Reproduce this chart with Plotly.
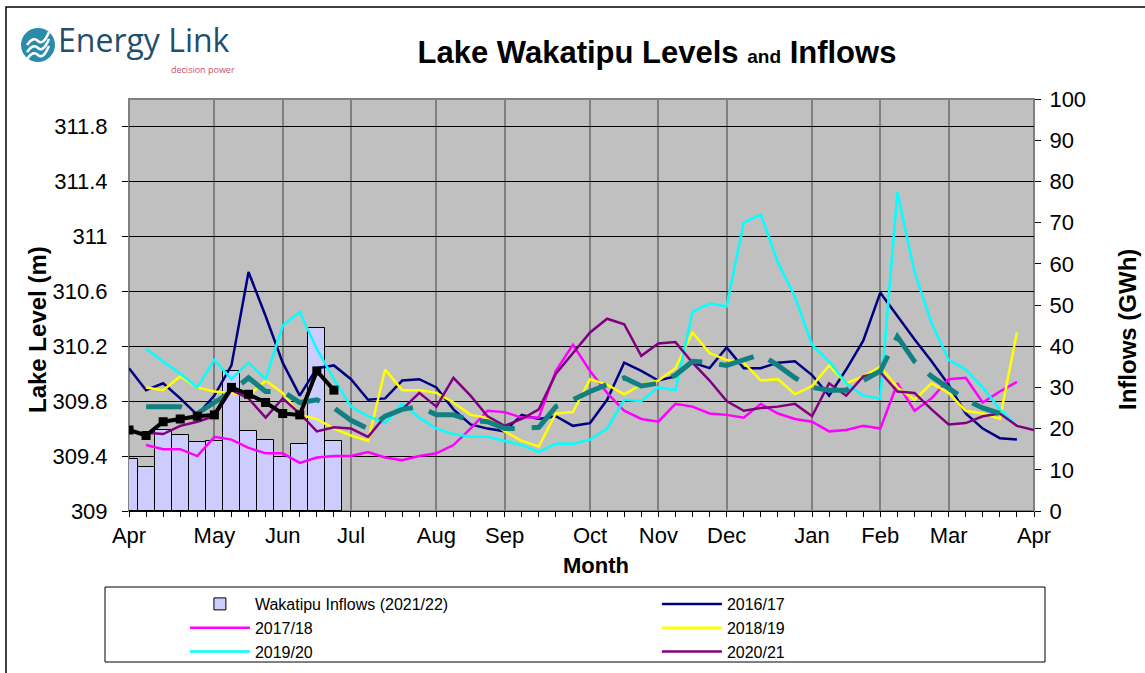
import plotly.graph_objects as go

# ---------------- data ----------------
month_ticks = [0, 5, 9, 13, 18, 22, 27, 31, 35, 40, 44, 48, 53]
month_labels = ['Apr', 'May', 'Jun', 'Jul', 'Aug', 'Sep', 'Oct', 'Nov', 'Dec', 'Jan', 'Feb', 'Mar', 'Apr']

level_ticks = [309, 309.4, 309.8, 310.2, 310.6, 311, 311.4, 311.8]
level_tick_labels = ['309', '309.4', '309.8', '310.2', '310.6', '311', '311.4', '311.8']

weeks_2122 = list(range(0, 13))
inflows_2122 = [12.6, 10.7, 19.7, 18.4, 16.7, 17.0, 34.1, 19.5, 17.3, 13.0, 16.2, 44.5, 16.9]
level_2122 = [309.59, 309.55, 309.65, 309.67, 309.69, 309.70, 309.90, 309.85, 309.79, 309.71,
              309.70, 310.02, 309.88]

weeks_1617 = list(range(0, 53))
level_1617 = [310.04, 309.88, 309.93, 309.82, 309.70, 309.84, 310.06, 310.74, 310.42, 310.08,
              309.84, 310.04, 310.06, 309.96, 309.81, 309.82, 309.95, 309.96, 309.90, 309.74,
              309.63, 309.60, 309.58, 309.70, 309.67, 309.69, 309.62, 309.64, 309.81, 310.08,
              310.02, 309.95, 309.98, 310.08, 310.04, 310.19, 310.04, 310.04, 310.08, 310.09,
              309.99, 309.84, 310.03, 310.24, 310.59, 310.42, 310.25, 310.09, 309.92, 309.71,
              309.60, 309.53, 309.52]

weeks_1718 = list(range(1, 53))
level_1718 = [309.48, 309.45, 309.45, 309.40, 309.54, 309.52, 309.46, 309.42, 309.42, 309.35,
              309.39, 309.40, 309.40, 309.43, 309.39, 309.37, 309.40, 309.42, 309.48, 309.60,
              309.73, 309.72, 309.68, 309.68, 310.02, 310.21, 310.02, 309.86, 309.73, 309.67,
              309.65, 309.78, 309.76, 309.71, 309.70, 309.68, 309.78, 309.71, 309.67, 309.65,
              309.58, 309.59, 309.62, 309.60, 309.93, 309.73, 309.82, 309.96, 309.97, 309.79,
              309.87, 309.94]

weeks_1819 = list(range(1, 53))
level_1819 = [309.90, 309.88, 309.98, 309.90, 309.87, 309.86, 309.84, 309.95, 309.86, 309.70,
              309.67, 309.60, 309.55, 309.51, 310.03, 309.88, 309.88, 309.86, 309.79, 309.70,
              309.68, 309.58, 309.51, 309.47, 309.71, 309.72, 309.96, 309.92, 309.85, 309.92,
              309.95, 310.04, 310.30, 310.15, 310.10, 310.08, 309.95, 309.96, 309.85, 309.91,
              310.06, 309.93, 309.98, 310.05, 309.90, 309.81, 309.93, 309.86, 309.73, 309.71,
              309.67, 310.30]

weeks_1920 = list(range(1, 53))
level_1920 = [310.18, 310.09, 310.00, 309.90, 310.10, 309.96, 310.08, 309.96, 310.35, 310.45,
              310.18, 309.96, 309.76, 309.69, 309.64, 309.78, 309.68, 309.60, 309.56, 309.54,
              309.54, 309.51, 309.48, 309.43, 309.49, 309.49, 309.52, 309.60, 309.81, 309.80,
              309.90, 309.88, 310.45, 310.51, 310.49, 311.10, 311.16, 310.81, 310.56, 310.21,
              310.09, 309.93, 309.84, 309.82, 311.32, 310.74, 310.37, 310.10, 310.03, 309.90,
              309.74, 309.62]

weeks_2021 = list(range(1, 54))
level_2021 = [309.57, 309.56, 309.62, 309.65, 309.69, 309.88, 309.82, 309.68, 309.82, 309.71,
              309.58, 309.61, 309.60, 309.54, 309.69, 309.74, 309.86, 309.76, 309.97, 309.84,
              309.69, 309.62, 309.67, 309.74, 310.00, 310.15, 310.30, 310.40, 310.36, 310.13,
              310.22, 310.23, 310.08, 309.95, 309.80, 309.73, 309.75, 309.76, 309.78, 309.69,
              309.93, 309.84, 309.98, 310.01, 309.87, 309.86, 309.74, 309.63, 309.64, 309.69,
              309.71, 309.62, 309.59]

weeks_avg = list(range(1, 52))
level_avg = [309.76, 309.76, 309.76, 309.71, 309.79, 309.87, 309.97, 309.87, 309.87, 309.79,
             309.81, 309.75, 309.66, 309.60, 309.69, 309.74, 309.76, 309.70, 309.70, 309.66,
             309.65, 309.60, 309.60, 309.61, 309.76, 309.81, 309.87, 309.92, 309.97, 309.91,
             309.93, 309.99, 310.09, 310.08, 310.06, 310.10, 310.14, 310.06, 309.97, 309.90,
             309.88, 309.88, 309.95, 310.02, 310.27, 310.09, 309.98, 309.90, 309.81, 309.75,
             309.71]

# ---------------- layout geometry ----------------
FW, FH = 1145, 673
ML, MR, MT, MB = 129, 111, 99, 162
PW, PH = FW - ML - MR, FH - MT - MB


def px(x):
    return (x - ML) / PW


def py(y):
    return (FH - MB - y) / PH


BASE = 'Liberation Sans, Arial, sans-serif'
LOGO = 'Open Sans, Noto Sans, sans-serif'

fig = go.Figure()

fig.add_trace(go.Bar(
    x=weeks_2122, y=inflows_2122, width=1, name='Wakatipu Inflows (2021/22)',
    marker=dict(color='#CCCCFF', line=dict(color='black', width=1)),
    xaxis='x', yaxis='y'))

series = [
    ('2016/17', weeks_1617, level_1617, '#000080'),
    ('2017/18', weeks_1718, level_1718, '#FF00FF'),
    ('2018/19', weeks_1819, level_1819, '#FFFF00'),
    ('2019/20', weeks_1920, level_1920, '#00FFFF'),
    ('2020/21', weeks_2021, level_2021, '#800080'),
]
for name, xs, ys, col in series:
    fig.add_trace(go.Scatter(x=xs, y=ys, name=name, mode='lines',
                             line=dict(color=col, width=2.5), yaxis='y2'))

fig.add_trace(go.Scatter(x=weeks_avg, y=level_avg, mode='lines', showlegend=False,
                         line=dict(color='#118080', width=5, dash='36px,17px'), yaxis='y2'))
fig.add_trace(go.Scatter(x=weeks_2122, y=level_2122, mode='lines+markers', showlegend=False,
                         line=dict(color='black', width=4),
                         marker=dict(symbol='square', size=9, color='black'), yaxis='y2'))

shapes = [
    # outer chart border
    dict(type='rect', xref='paper', yref='paper', x0=px(6), x1=px(1170), y0=py(700), y1=py(7),
         line=dict(color='black', width=1.5), fillcolor='rgba(0,0,0,0)', layer='above'),
    # legend box
    dict(type='rect', xref='paper', yref='paper', x0=px(105), x1=px(1045), y0=py(662), y1=py(587),
         line=dict(color='black', width=1), fillcolor='white', layer='below'),
    # plot frame
    dict(type='rect', xref='paper', yref='paper', x0=0, x1=1, y0=0, y1=1,
         line=dict(color='#808080', width=2), fillcolor='rgba(0,0,0,0)', layer='below'),
    # logo circle
    dict(type='circle', xref='paper', yref='paper', x0=px(21), x1=px(55), y0=py(62), y1=py(28),
         line=dict(color='#2a8caa', width=0), fillcolor='#2a8caa', layer='above'),
]
for dy in (-7, 0, 7):
    shapes.append(dict(
        type='path', xref='paper', yref='paper', layer='above',
        path=f'M {px(27)},{py(52+dy)} Q {px(33)},{py(43+dy)} {px(38)},{py(48+dy)} '
             f'T {px(49)},{py(39+dy)}',
        line=dict(color='white', width=2.5)))

annotations = [
    dict(text='Energy Link', xref='paper', yref='paper', x=px(56), y=py(40), xanchor='left',
         yanchor='middle', showarrow=False,
         font=dict(family=LOGO, size=32, color='#1f4e6e')),
    dict(text='decision power', xref='paper', yref='paper', x=px(237), y=py(69), xanchor='right',
         yanchor='middle', showarrow=False,
         font=dict(family=LOGO, size=9, color='#c8506e')),
    dict(text='<b>Lake Level (m)</b>', xref='paper', yref='paper', x=px(37), y=py(330),
         xanchor='center', yanchor='middle', textangle=-90, showarrow=False,
         font=dict(family=BASE, size=24, color='black')),
    dict(text='<b>Inflows (GWh)</b>', xref='paper', yref='paper', x=px(1127), y=py(330),
         xanchor='center', yanchor='middle', textangle=-90, showarrow=False,
         font=dict(family=BASE, size=24, color='black')),
    dict(text='<b>Month</b>', xref='paper', yref='paper', x=px(596), y=py(565),
         xanchor='center', yanchor='middle', showarrow=False,
         font=dict(family=BASE, size=22, color='black')),
]

fig.update_layout(
    width=FW, height=FH,
    margin=dict(l=ML, r=MR, t=MT, b=MB, autoexpand=False),
    paper_bgcolor='white', plot_bgcolor='#C0C0C0',
    title=dict(text="<b>Lake Wakatipu Levels <span style='font-size:19px'>and</span> Inflows</b>",
               x=657 / FW, xref='container', xanchor='center',
               y=1 - 52 / FH, yref='container', yanchor='middle',
               font=dict(family=BASE, size=31, color='black')),
    bargap=0,
    showlegend=True,
    legend=dict(orientation='h', x=-0.0001, xanchor='left', y=py(587), yanchor='top',
                entrywidth=341, entrywidthmode='pixels', itemwidth=60, indentation=56,
                bgcolor='rgba(0,0,0,0)', borderwidth=0, traceorder='normal',
                font=dict(family=BASE, size=16, color='black')),
    xaxis=dict(range=[0, 53], tickvals=month_ticks, ticktext=month_labels,
               ticks='outside', ticklen=5, tickcolor='black', tickwidth=1,
               showgrid=True, gridcolor='#808080', gridwidth=2,
               showline=True, linecolor='black', linewidth=1, zeroline=False,
               tickfont=dict(family=BASE, size=22, color='black'),
               minor=dict(dtick=1, tick0=0, ticks='outside', ticklen=5, tickcolor='black',
                          showgrid=False)),
    yaxis=dict(range=[0, 100], dtick=10, side='right', ticks='outside', ticklen=6,
               tickcolor='black', showgrid=False, zeroline=False, showline=False,
               ticklabelstandoff=4,
               tickfont=dict(family=BASE, size=22, color='black')),
    yaxis2=dict(range=[309, 312], overlaying='y', side='left', tickvals=level_ticks,
                ticktext=level_tick_labels, ticks='outside', ticklen=6, tickcolor='black',
                showgrid=True, gridcolor='black', gridwidth=1, zeroline=False, showline=False,
                ticklabelstandoff=10,
                tickfont=dict(family=BASE, size=22, color='black')),
    shapes=shapes,
    annotations=annotations,
)

fig.write_html('out.html', config={'displayModeBar': False},
               post_script="document.body.style.margin='0px';")
